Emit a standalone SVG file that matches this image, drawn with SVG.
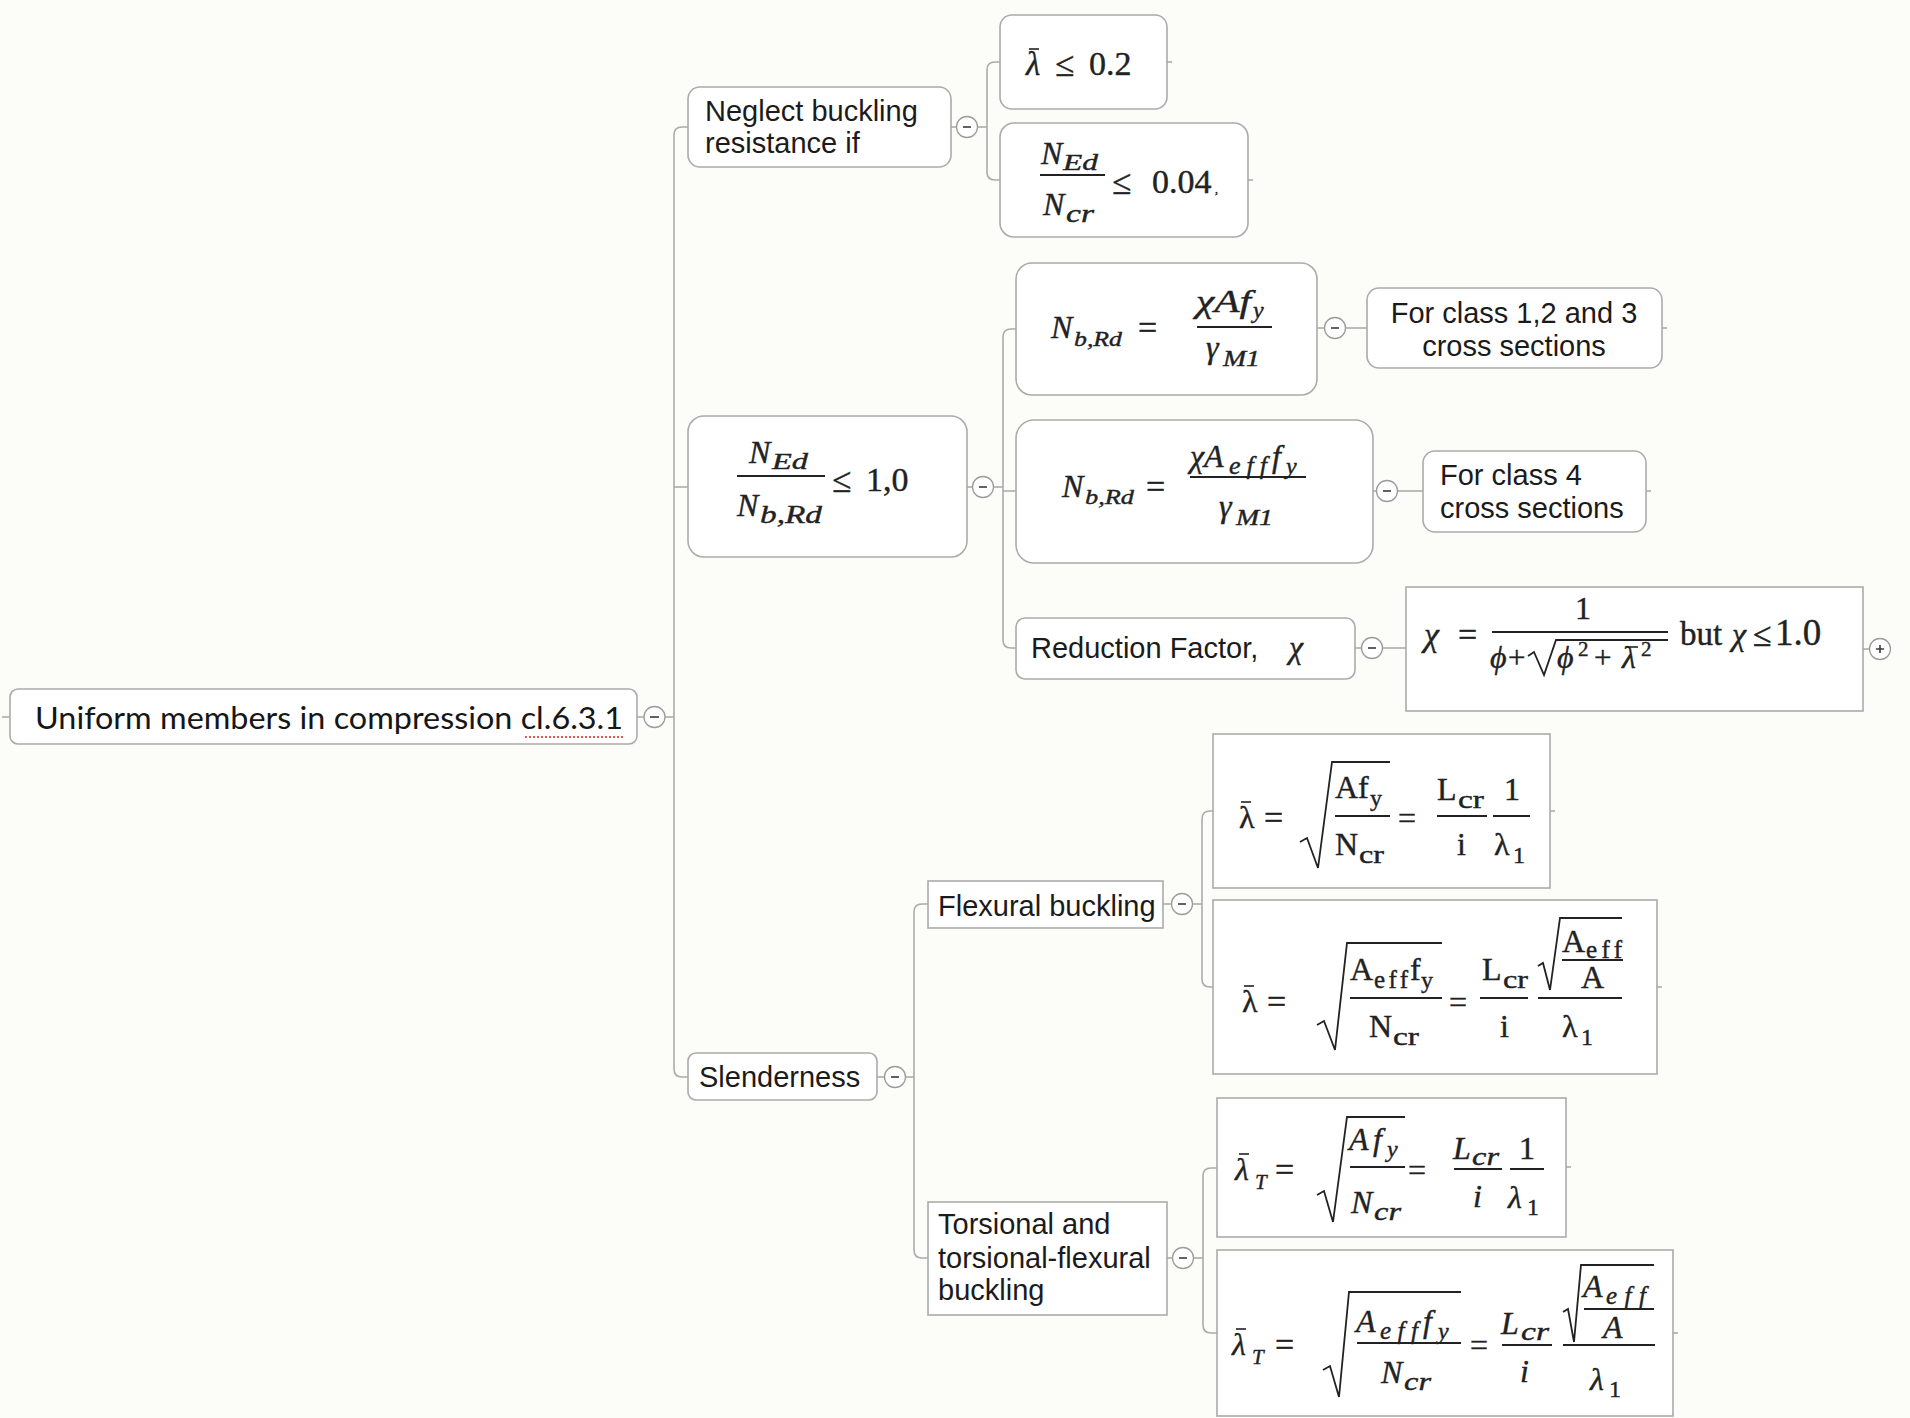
<svg xmlns="http://www.w3.org/2000/svg" width="1910" height="1418" viewBox="0 0 1910 1418">
  <style>
    .box { fill: #ffffff; stroke: #ababab; stroke-width: 1.6; }
    .conn path { fill: none; stroke: #ababab; stroke-width: 1.6; }
    .tog circle { fill: #ffffff; stroke: #9c9c9c; stroke-width: 1.3; }
    .tog path { stroke: #3a3a3a; stroke-width: 1.6; fill: none; }
    .t { font-family: "Liberation Sans", Arial, sans-serif; font-size: 29px; fill: #1b1b1b; }
    .root { font-family: Lato, "Open Sans", "Liberation Sans", sans-serif; font-size: 31px; fill: #161616; }
    .mi { font-family: "Liberation Serif", "Times New Roman", serif; font-style: italic; fill: #222222; stroke: #222222; stroke-width: 0.4; }
    .mu { font-family: "Liberation Serif", "Times New Roman", serif; fill: #222222; stroke: #222222; stroke-width: 0.4; }
    .bar { stroke: #222222; stroke-width: 2; }
    .ov { stroke: #222222; stroke-width: 1.6; }
    .rad { fill: none; stroke: #222222; stroke-width: 1.8; stroke-linejoin: miter; }
  </style>

  <rect x="0" y="0" width="1910" height="1418" fill="#fcfcf8"/>

  <!-- connectors -->
  <g id="connectors" class="conn">
    <path d="M2,717 H10"/>
    <path d="M637,717 H644"/>
    <path d="M665,717 H674"/>
    <path d="M688,127 H682 Q674,127 674,135 V1069 Q674,1077 682,1077 H688"/>
    <path d="M674,487 H688"/>

    <path d="M951,127 H956"/>
    <path d="M978,127 H987"/>
    <path d="M1000,62 H995 Q987,62 987,70 V172 Q987,180 995,180 H1000"/>

    <path d="M967,487 H972"/>
    <path d="M994,487 H1003"/>
    <path d="M1016,329 H1011 Q1003,329 1003,337 V640 Q1003,648 1011,648 H1016"/>
    <path d="M1003,491 H1016"/>

    <path d="M1317,328 H1324"/>
    <path d="M1346,328 H1367"/>
    <path d="M1373,491 H1376"/>
    <path d="M1398,491 H1423"/>
    <path d="M1355,648 H1361"/>
    <path d="M1383,648 H1406"/>
    <path d="M1863,649 H1869"/>

    <path d="M877,1077 H884"/>
    <path d="M906,1077 H914"/>
    <path d="M928,904 H922 Q914,904 914,912 V1250 Q914,1258 922,1258 H928"/>

    <path d="M1163,904 H1171"/>
    <path d="M1193,904 H1202"/>
    <path d="M1213,811 H1210 Q1202,811 1202,819 V979 Q1202,987 1210,987 H1213"/>

    <path d="M1167,1258 H1172"/>
    <path d="M1194,1258 H1203"/>
    <path d="M1217,1168 H1211 Q1203,1168 1203,1176 V1325 Q1203,1333 1211,1333 H1217"/>

    <!-- short tails on leaf topics -->
    <path d="M1167,62 h5"/>
    <path d="M1248,180 h5"/>
    <path d="M1662,328 h5"/>
    <path d="M1646,491 h5"/>
    <path d="M1550,811 h5"/>
    <path d="M1657,987 h5"/>
    <path d="M1566,1167 h5"/>
    <path d="M1673,1333 h5"/>
  </g>

  <!-- collapse / expand toggles -->
  <g id="toggles" class="tog">
    <circle cx="654.5" cy="717" r="10.5"/><path d="M650,717 h9"/>
    <circle cx="967" cy="127" r="10.5"/><path d="M963,127 h8"/>
    <circle cx="983" cy="487" r="10.5"/><path d="M979,487 h8"/>
    <circle cx="1335" cy="328" r="10.5"/><path d="M1331,328 h8"/>
    <circle cx="1387" cy="491" r="10.5"/><path d="M1383,491 h8"/>
    <circle cx="1372" cy="648" r="10.5"/><path d="M1368,648 h8"/>
    <circle cx="1880" cy="649" r="10.5"/><path d="M1876,649 h8 M1880,645 v8"/>
    <circle cx="895" cy="1077" r="10.5"/><path d="M891,1077 h8"/>
    <circle cx="1182" cy="904" r="10.5"/><path d="M1178,904 h8"/>
    <circle cx="1183" cy="1258" r="10.5"/><path d="M1179,1258 h8"/>
  </g>

  <!-- central topic -->
  <g id="root">
    <rect class="box" x="10" y="689" width="627" height="55" rx="8"/>
    <text class="root" x="35" y="729" textLength="588" lengthAdjust="spacingAndGlyphs">Uniform members in compression cl.6.3.1</text>
    <path d="M525,737 H623" stroke="#e05a5a" stroke-width="2" stroke-dasharray="2 2"/>
  </g>

  <!-- neglect buckling branch -->
  <g id="neglect">
    <rect class="box" x="688" y="87" width="263" height="80" rx="12"/>
    <text class="t" x="705" y="121">Neglect buckling</text>
    <text class="t" x="705" y="153">resistance if</text>
  </g>

  <g id="lambda-limit">
    <rect class="box" x="1000" y="15" width="167" height="94" rx="12"/>
    <text class="mi" x="1026" y="75" font-size="33">λ</text>
    <line class="ov" x1="1029" y1="49" x2="1039" y2="49"/>
    <text class="mu" x="1055" y="76" font-size="35">≤</text>
    <text class="mu" x="1089" y="75" font-size="34">0.2</text>
  </g>

  <g id="ned-ncr-limit">
    <rect class="box" x="1000" y="123" width="248" height="114" rx="14"/>
    <text class="mi" x="1041" y="164" font-size="32">N</text>
    <text class="mi" x="1063" y="170" font-size="24" textLength="35" lengthAdjust="spacingAndGlyphs">Ed</text>
    <line class="bar" x1="1040" y1="175" x2="1105" y2="175"/>
    <text class="mi" x="1043" y="215" font-size="32">N</text>
    <text class="mi" x="1066" y="222" font-size="25" textLength="28" lengthAdjust="spacingAndGlyphs">cr</text>
    <text class="mu" x="1112" y="194" font-size="35">≤</text>
    <text class="mu" x="1152" y="193" font-size="34">0.04</text>
    <text class="mu" x="1215" y="193" font-size="12">,</text>
  </g>

  <!-- design resistance check -->
  <g id="ned-nbrd">
    <rect class="box" x="688" y="416" width="279" height="141" rx="16"/>
    <text class="mi" x="749" y="463" font-size="32">N</text>
    <text class="mi" x="772" y="469" font-size="24" textLength="36" lengthAdjust="spacingAndGlyphs">Ed</text>
    <line class="bar" x1="737" y1="476" x2="825" y2="476"/>
    <text class="mi" x="737" y="516" font-size="32">N</text>
    <text class="mi" x="760" y="523" font-size="26" textLength="62" lengthAdjust="spacingAndGlyphs">b,Rd</text>
    <text class="mu" x="832" y="492" font-size="35">≤</text>
    <text class="mu" x="866" y="491" font-size="34">1,0</text>
  </g>

  <g id="nbrd-class123">
    <rect class="box" x="1016" y="263" width="301" height="132" rx="16"/>
    <text class="mi" x="1051" y="338" font-size="32">N</text>
    <text class="mi" x="1074" y="346" font-size="22" textLength="48" lengthAdjust="spacingAndGlyphs">b,Rd</text>
    <text class="mu" x="1138" y="339" font-size="34">=</text>
    <text class="mi" x="1196" y="312" font-size="32" textLength="55" lengthAdjust="spacingAndGlyphs">χAf</text>
    <text class="mi" x="1253" y="318" font-size="24">y</text>
    <line class="bar" x1="1197" y1="327" x2="1272" y2="327"/>
    <text class="mi" x="1206" y="358" font-size="32">γ</text>
    <text class="mi" x="1223" y="366" font-size="23" textLength="37" lengthAdjust="spacingAndGlyphs">M1</text>
  </g>

  <g id="class123">
    <rect class="box" x="1367" y="288" width="295" height="80" rx="12"/>
    <text class="t" x="1514" y="323" text-anchor="middle">For class 1,2 and 3</text>
    <text class="t" x="1514" y="356" text-anchor="middle">cross sections</text>
  </g>

  <g id="nbrd-class4">
    <rect class="box" x="1016" y="420" width="357" height="143" rx="18"/>
    <text class="mi" x="1062" y="497" font-size="32">N</text>
    <text class="mi" x="1085" y="504" font-size="22" textLength="49" lengthAdjust="spacingAndGlyphs">b,Rd</text>
    <text class="mu" x="1146" y="498" font-size="34">=</text>
    <text class="mi" x="1190" y="467" font-size="32">χA</text>
    <text class="mi" x="1229" y="474" font-size="26" textLength="38">eff</text>
    <text class="mi" x="1272" y="467" font-size="32">f</text>
    <text class="mi" x="1286" y="474" font-size="24">y</text>
    <line class="bar" x1="1190" y1="477" x2="1306" y2="477"/>
    <text class="mi" x="1219" y="517" font-size="32">γ</text>
    <text class="mi" x="1236" y="525" font-size="23" textLength="37" lengthAdjust="spacingAndGlyphs">M1</text>
  </g>

  <g id="class4">
    <rect class="box" x="1423" y="451" width="223" height="81" rx="12"/>
    <text class="t" x="1440" y="485">For class 4</text>
    <text class="t" x="1440" y="518">cross sections</text>
  </g>

  <g id="reduction-factor">
    <rect class="box" x="1016" y="618" width="339" height="61" rx="9"/>
    <text class="t" x="1031" y="658">Reduction Factor,</text>
    <text class="mi" x="1289" y="658" font-size="32">χ</text>
  </g>

  <g id="chi-formula">
    <rect class="box" x="1406" y="587" width="457" height="124"/>
    <text class="mi" x="1424" y="646" font-size="34">χ</text>
    <text class="mu" x="1458" y="646" font-size="34">=</text>
    <text class="mu" x="1575" y="619" font-size="32">1</text>
    <line class="bar" x1="1492" y1="632" x2="1668" y2="632"/>
    <text class="mi" x="1490" y="668" font-size="32">ϕ</text>
    <text class="mu" x="1508" y="668" font-size="31">+</text>
    <path class="rad" d="M1528,656 L1534,652 L1544,675 L1556,640 H1668"/>
    <text class="mi" x="1557" y="668" font-size="32">ϕ</text>
    <text class="mu" x="1578" y="656" font-size="21">2</text>
    <text class="mu" x="1594" y="668" font-size="31">+</text>
    <text class="mi" x="1622" y="668" font-size="32">λ</text>
    <line class="ov" x1="1626" y1="647" x2="1638" y2="647"/>
    <text class="mu" x="1641" y="656" font-size="21">2</text>
    <text class="mu" x="1680" y="645" font-size="33">but</text>
    <text class="mi" x="1732" y="645" font-size="32">χ</text>
    <text class="mu" x="1753" y="646" font-size="34">≤</text>
    <text class="mu" x="1775" y="645" font-size="37">1.0</text>
  </g>

  <!-- slenderness branch -->
  <g id="slenderness">
    <rect class="box" x="688" y="1053" width="189" height="47" rx="8"/>
    <text class="t" x="699" y="1087">Slenderness</text>
  </g>

  <g id="flexural">
    <rect class="box" x="928" y="881" width="235" height="47"/>
    <text class="t" x="938" y="916">Flexural buckling</text>
  </g>

  <g id="flexural-1">
    <rect class="box" x="1213" y="734" width="337" height="154"/>
    <text class="mu" x="1239" y="828" font-size="32">λ</text>
    <line class="ov" x1="1241" y1="802" x2="1251" y2="802"/>
    <text class="mu" x="1264" y="829" font-size="34">=</text>
    <path class="rad" d="M1300,842 L1307,838 L1318,868 L1332,762 H1390"/>
    <text class="mu" x="1335" y="798" font-size="32">Af</text>
    <text class="mu" x="1370" y="806" font-size="24">y</text>
    <line class="bar" x1="1335" y1="816" x2="1390" y2="816"/>
    <text class="mu" x="1335" y="855" font-size="32">N</text>
    <text class="mu" x="1359" y="863" font-size="25" textLength="25" lengthAdjust="spacingAndGlyphs">cr</text>
    <text class="mu" x="1398" y="829" font-size="32">=</text>
    <text class="mu" x="1437" y="800" font-size="32">L</text>
    <text class="mu" x="1458" y="808" font-size="25" textLength="26" lengthAdjust="spacingAndGlyphs">cr</text>
    <line class="bar" x1="1437" y1="816" x2="1487" y2="816"/>
    <text class="mu" x="1457" y="855" font-size="32">i</text>
    <text class="mu" x="1504" y="800" font-size="32">1</text>
    <line class="bar" x1="1493" y1="816" x2="1530" y2="816"/>
    <text class="mu" x="1494" y="855" font-size="32">λ</text>
    <text class="mu" x="1513" y="863" font-size="24">1</text>
  </g>

  <g id="flexural-2">
    <rect class="box" x="1213" y="900" width="444" height="174"/>
    <text class="mu" x="1242" y="1012" font-size="32">λ</text>
    <line class="ov" x1="1244" y1="986" x2="1254" y2="986"/>
    <text class="mu" x="1267" y="1013" font-size="34">=</text>
    <path class="rad" d="M1317,1025 L1324,1021 L1335,1050 L1347,943 H1442"/>
    <text class="mu" x="1350" y="980" font-size="32">A</text>
    <text class="mu" x="1374" y="988" font-size="25" textLength="34">eff</text>
    <text class="mu" x="1410" y="980" font-size="32">f</text>
    <text class="mu" x="1421" y="988" font-size="24">y</text>
    <line class="bar" x1="1350" y1="998" x2="1442" y2="998"/>
    <text class="mu" x="1369" y="1037" font-size="32">N</text>
    <text class="mu" x="1393" y="1045" font-size="25" textLength="26" lengthAdjust="spacingAndGlyphs">cr</text>
    <text class="mu" x="1449" y="1013" font-size="32">=</text>
    <text class="mu" x="1482" y="980" font-size="32">L</text>
    <text class="mu" x="1503" y="988" font-size="25" textLength="25" lengthAdjust="spacingAndGlyphs">cr</text>
    <line class="bar" x1="1480" y1="998" x2="1528" y2="998"/>
    <text class="mu" x="1500" y="1037" font-size="32">i</text>
    <path class="rad" d="M1538,966 L1543,963 L1550,990 L1560,918 H1622"/>
    <text class="mu" x="1562" y="952" font-size="32">A</text>
    <text class="mu" x="1586" y="958" font-size="25" textLength="36">eff</text>
    <line class="bar" x1="1562" y1="960" x2="1623" y2="960"/>
    <text class="mu" x="1581" y="988" font-size="32">A</text>
    <line class="bar" x1="1538" y1="998" x2="1622" y2="998"/>
    <text class="mu" x="1562" y="1037" font-size="32">λ</text>
    <text class="mu" x="1581" y="1045" font-size="24">1</text>
  </g>

  <g id="torsional">
    <rect class="box" x="928" y="1202" width="239" height="113"/>
    <text class="t" x="938" y="1234">Torsional and</text>
    <text class="t" x="938" y="1268">torsional-flexural</text>
    <text class="t" x="938" y="1300">buckling</text>
  </g>

  <g id="torsional-1">
    <rect class="box" x="1217" y="1098" width="349" height="139"/>
    <text class="mi" x="1235" y="1180" font-size="32">λ</text>
    <line class="ov" x1="1239" y1="1154" x2="1249" y2="1154"/>
    <text class="mi" x="1255" y="1189" font-size="21">T</text>
    <text class="mu" x="1275" y="1181" font-size="34">=</text>
    <path class="rad" d="M1317,1195 L1324,1191 L1333,1222 L1347,1117 H1405"/>
    <text class="mi" x="1349" y="1150" font-size="32">A</text>
    <text class="mi" x="1373" y="1150" font-size="32">f</text>
    <text class="mi" x="1387" y="1157" font-size="24">y</text>
    <line class="bar" x1="1350" y1="1167" x2="1405" y2="1167"/>
    <text class="mi" x="1351" y="1213" font-size="32">N</text>
    <text class="mi" x="1374" y="1220" font-size="25" textLength="27" lengthAdjust="spacingAndGlyphs">cr</text>
    <text class="mu" x="1408" y="1181" font-size="32">=</text>
    <text class="mi" x="1453" y="1159" font-size="32">L</text>
    <text class="mi" x="1472" y="1165" font-size="25" textLength="27" lengthAdjust="spacingAndGlyphs">cr</text>
    <line class="bar" x1="1454" y1="1169" x2="1502" y2="1169"/>
    <text class="mi" x="1473" y="1207" font-size="32">i</text>
    <text class="mu" x="1519" y="1159" font-size="32">1</text>
    <line class="bar" x1="1510" y1="1169" x2="1544" y2="1169"/>
    <text class="mi" x="1508" y="1208" font-size="32">λ</text>
    <text class="mu" x="1527" y="1215" font-size="24">1</text>
  </g>

  <g id="torsional-2">
    <rect class="box" x="1217" y="1250" width="456" height="166"/>
    <text class="mi" x="1232" y="1355" font-size="32">λ</text>
    <line class="ov" x1="1236" y1="1329" x2="1246" y2="1329"/>
    <text class="mi" x="1252" y="1364" font-size="21">T</text>
    <text class="mu" x="1275" y="1356" font-size="34">=</text>
    <path class="rad" d="M1323,1370 L1330,1366 L1339,1397 L1349,1292 H1461"/>
    <text class="mi" x="1356" y="1332" font-size="32">A</text>
    <text class="mi" x="1380" y="1339" font-size="25" textLength="38">eff</text>
    <text class="mi" x="1423" y="1332" font-size="32">f</text>
    <text class="mi" x="1438" y="1339" font-size="24">y</text>
    <line class="bar" x1="1357" y1="1343" x2="1461" y2="1343"/>
    <text class="mi" x="1381" y="1383" font-size="32">N</text>
    <text class="mi" x="1404" y="1390" font-size="25" textLength="27" lengthAdjust="spacingAndGlyphs">cr</text>
    <text class="mu" x="1470" y="1356" font-size="32">=</text>
    <text class="mi" x="1501" y="1334" font-size="32">L</text>
    <text class="mi" x="1521" y="1340" font-size="25" textLength="28" lengthAdjust="spacingAndGlyphs">cr</text>
    <line class="bar" x1="1502" y1="1345" x2="1552" y2="1345"/>
    <text class="mi" x="1520" y="1382" font-size="32">i</text>
    <path class="rad" d="M1563,1312 L1568,1309 L1574,1342 L1581,1265 H1654"/>
    <text class="mi" x="1583" y="1297" font-size="32">A</text>
    <text class="mi" x="1606" y="1304" font-size="25" textLength="40">eff</text>
    <line class="bar" x1="1584" y1="1309" x2="1654" y2="1309"/>
    <text class="mi" x="1603" y="1338" font-size="32">A</text>
    <line class="bar" x1="1563" y1="1345" x2="1655" y2="1345"/>
    <text class="mi" x="1590" y="1390" font-size="32">λ</text>
    <text class="mu" x="1609" y="1397" font-size="24">1</text>
  </g>
</svg>
